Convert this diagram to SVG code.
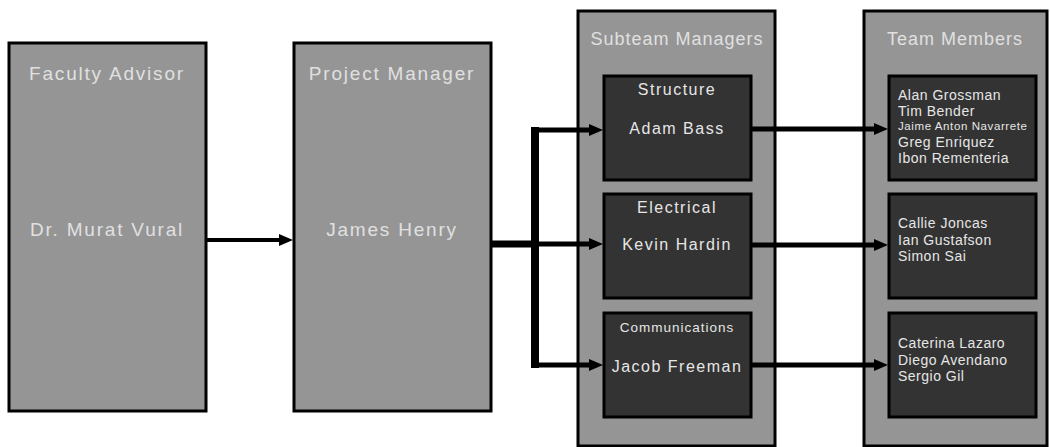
<svg xmlns="http://www.w3.org/2000/svg" width="1050" height="447" viewBox="0 0 1050 447">
<style>
.outer{fill:#959595;stroke:#000;stroke-width:3}
.inner{fill:#333333;stroke:#000;stroke-width:3}
text{font-family:"Liberation Sans",Arial,sans-serif}
.h{fill:#e0e0e0;font-size:18px;letter-spacing:1px;text-anchor:middle}
.big{fill:#e0e0e0;font-size:19px;letter-spacing:1.8px;text-anchor:middle}
.t{fill:#e6e6e6;font-size:16px;letter-spacing:1.5px;text-anchor:middle}
.m{fill:#e6e6e6;font-size:14px;letter-spacing:0.5px}
.c{fill:none;stroke:#000}
</style>
<defs>
<marker id="ah" viewBox="0 0 14 12" refX="0" refY="6" markerWidth="14" markerHeight="12" markerUnits="userSpaceOnUse" orient="auto">
<path d="M0,0 L14,6 L0,12 Z" fill="#000"/>
</marker>
</defs>
<g id="faculty">
<rect class="outer" x="9" y="43" width="197" height="368"/>
<text class="big" x="107" y="80">Faculty Advisor</text>
<text class="big" x="107" y="236">Dr. Murat Vural</text>
</g>
<g id="project">
<rect class="outer" x="294" y="43" width="197" height="368"/>
<text class="big" x="392" y="80">Project Manager</text>
<text class="big" x="392" y="236">James Henry</text>
</g>
<g id="subteam">
<rect class="outer" x="578" y="11" width="197" height="435"/>
<text class="h" x="677" y="45">Subteam Managers</text>
</g>
<g id="structure">
<rect class="inner" x="604" y="76" width="147" height="104"/>
<text class="t" x="677" y="95">Structure</text>
<text class="t" x="677" y="134">Adam Bass</text>
</g>
<g id="electrical">
<rect class="inner" x="604" y="194" width="147" height="104"/>
<text class="t" x="677" y="213">Electrical</text>
<text class="t" x="677" y="250">Kevin Hardin</text>
</g>
<g id="communications">
<rect class="inner" x="604" y="313" width="147" height="104"/>
<text class="t" x="677" y="332" style="font-size:13.5px;letter-spacing:1px">Communications</text>
<text class="t" x="677" y="372">Jacob Freeman</text>
</g>
<g id="team">
<rect class="outer" x="864" y="11" width="183" height="435"/>
<text class="h" x="955" y="45">Team Members</text>
</g>
<g id="team-structure">
<rect class="inner" x="889" y="76" width="147" height="104"/>
<text class="m" x="898" y="100">Alan Grossman</text>
<text class="m" x="898" y="116">Tim Bender</text>
<text class="m" x="898" y="130" style="font-size:11.5px;letter-spacing:0.6px">Jaime Anton Navarrete</text>
<text class="m" x="898" y="147">Greg Enriquez</text>
<text class="m" x="898" y="163">Ibon Rementeria</text>
</g>
<g id="team-electrical">
<rect class="inner" x="889" y="194" width="147" height="104"/>
<text class="m" x="898" y="228">Callie Joncas</text>
<text class="m" x="898" y="245">Ian Gustafson</text>
<text class="m" x="898" y="261">Simon Sai</text>
</g>
<g id="team-communications">
<rect class="inner" x="889" y="313" width="147" height="104"/>
<text class="m" x="898" y="348">Caterina Lazaro</text>
<text class="m" x="898" y="365">Diego Avendano</text>
<text class="m" x="898" y="381">Sergio Gil</text>
</g>
<g id="connectors">
<line class="c" x1="207" y1="240" x2="279" y2="240" stroke-width="4" marker-end="url(#ah)"/>
<line class="c" x1="492" y1="244" x2="539" y2="244" stroke-width="7"/>
<line class="c" x1="535" y1="127" x2="535" y2="368" stroke-width="8"/>
<line class="c" x1="531" y1="130" x2="589" y2="130" stroke-width="5" marker-end="url(#ah)"/>
<line class="c" x1="531" y1="244" x2="589" y2="244" stroke-width="5" marker-end="url(#ah)"/>
<line class="c" x1="531" y1="365" x2="589" y2="365" stroke-width="5" marker-end="url(#ah)"/>
<line class="c" x1="752" y1="129" x2="874" y2="129" stroke-width="5" marker-end="url(#ah)"/>
<line class="c" x1="752" y1="245" x2="874" y2="245" stroke-width="5" marker-end="url(#ah)"/>
<line class="c" x1="752" y1="365" x2="874" y2="365" stroke-width="5" marker-end="url(#ah)"/>
</g>
</svg>
